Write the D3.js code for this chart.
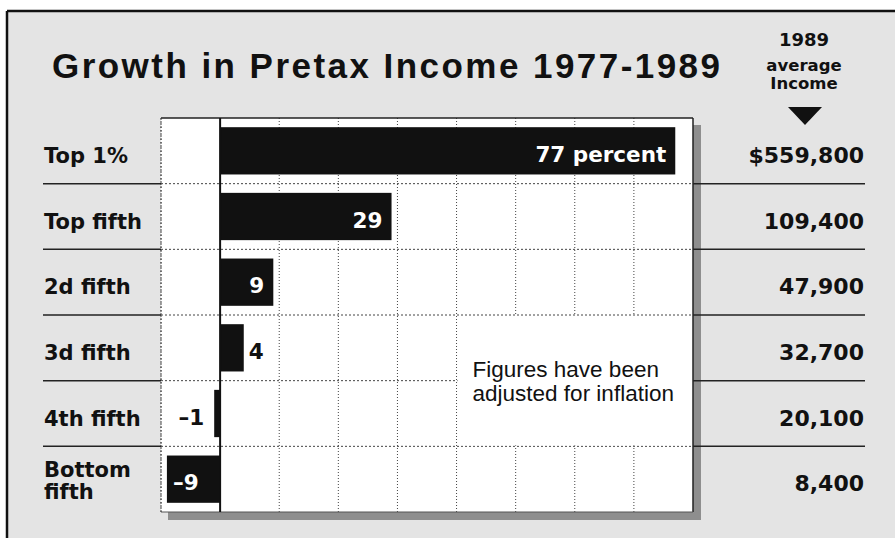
<!DOCTYPE html>
<html><head><meta charset="utf-8">
<script src="https://cdn.jsdelivr.net/npm/d3@7"></script>
<style>body{margin:0;background:#fff}svg{display:block}</style>
</head><body>
<svg id="chart" width="895" height="538"></svg>
<script>
// ---- data ----
const categories = ["Top 1%", "Top fifth", "2d fifth", "3d fifth", "4th fifth", "Bottom fifth"];
const growth = [77, 29, 9, 4, -1, -9];
const income1989 = [559800, 109400, 47900, 32700, 20100, 8400];
const gridTicks = [-10, 0, 10, 20, 30, 40, 50, 60, 70, 80];
const titleText = "Growth in Pretax Income 1977-1989";
const headerLines = ["1989", "average", "Income"];
const noteLines = ["Figures have been", "adjusted for inflation"];

// ---- layout ----
const svg = d3.select("#chart");
const W = 895, H = 538;
const panel = {left: 161, right: 693, top: 118, bottom: 512};
const boldFont = "'DejaVu Sans', sans-serif";
const x = d3.scaleLinear().domain([-10, 80]).range([panel.left, panel.right]);
const row = d3.scaleBand().domain(categories).range([panel.top, panel.bottom]).padding(0);
const barH = row.bandwidth() * 0.72;
const rows = categories.map((c, i) => ({cat: c, g: growth[i], inc: income1989[i], i}));
const cy = d => row(d.cat) + row.bandwidth() / 2;

// background & frame
svg.append("rect").attr("x", 7).attr("y", 11).attr("width", W - 7).attr("height", H - 11).attr("fill", "#e4e4e4");
svg.append("line").attr("x1", 7).attr("x2", W).attr("y1", 11).attr("y2", 11).attr("stroke", "#111").attr("stroke-width", 2.5);
svg.append("line").attr("x1", 7).attr("x2", 7).attr("y1", 11).attr("y2", H).attr("stroke", "#111").attr("stroke-width", 2.5);

// title
svg.append("text").attr("x", 52).attr("y", 78)
  .attr("font-family", "'Liberation Sans', Arial, sans-serif").attr("font-weight", "bold")
  .attr("font-size", 35).attr("fill", "#111")
  .attr("textLength", 668).attr("lengthAdjust", "spacing")
  .text(titleText);

// header on right
const headerY = [46, 71, 89];
svg.append("g").selectAll("text").data(headerLines).join("text")
  .attr("x", 804).attr("y", (d, i) => headerY[i]).attr("text-anchor", "middle")
  .attr("font-family", boldFont).attr("font-weight", "bold")
  .attr("font-size", (d, i) => i === 0 ? 18 : 16.5).attr("fill", "#111")
  .text(d => d);
svg.append("path").attr("d", "M788,107 L822,107 L805,125 Z").attr("fill", "#111");

// shadow + panel
svg.append("rect").attr("x", panel.left + 7).attr("y", panel.top + 7)
  .attr("width", panel.right - panel.left + 1).attr("height", panel.bottom - panel.top + 1).attr("fill", "#8e8e8e");
svg.append("rect").attr("x", panel.left).attr("y", panel.top)
  .attr("width", panel.right - panel.left).attr("height", panel.bottom - panel.top).attr("fill", "#fff");

// vertical grid
svg.append("g").selectAll("line").data(gridTicks.filter(t => t !== 0 && t !== 80)).join("line")
  .attr("x1", d => x(d)).attr("x2", d => x(d)).attr("y1", panel.top).attr("y2", panel.bottom)
  .attr("stroke", "#444").attr("stroke-width", 1).attr("stroke-dasharray", "1,2");
// horizontal separators in panel
const bounds = categories.slice(1).map(c => row(c));
svg.append("g").selectAll("line").data(bounds).join("line")
  .attr("x1", panel.left).attr("x2", panel.right).attr("y1", d => d).attr("y2", d => d)
  .attr("stroke", "#444").attr("stroke-width", 1).attr("stroke-dasharray", "2,2");

// note box (covers grid)
const noteTop = row("3d fifth"), noteBottom = row("4th fifth") + row.bandwidth();
svg.append("rect").attr("x", x(40) + 1).attr("y", noteTop + 1)
  .attr("width", x(80) - x(40) - 1).attr("height", noteBottom - noteTop - 2).attr("fill", "#fff");
svg.append("g").selectAll("text").data(noteLines).join("text")
  .attr("x", x(40) + 16).attr("y", (d, i) => 377 + i * 24)
  .attr("font-family", "'Liberation Sans', Arial, sans-serif").attr("font-size", 22.5).attr("fill", "#111")
  .text(d => d);

// panel edges
svg.append("line").attr("x1", panel.left).attr("x2", panel.right).attr("y1", panel.top).attr("y2", panel.top).attr("stroke", "#222").attr("stroke-width", 1.5);
svg.append("line").attr("x1", panel.right).attr("x2", panel.right).attr("y1", panel.top).attr("y2", panel.bottom).attr("stroke", "#222").attr("stroke-width", 1.5);
svg.append("line").attr("x1", panel.left).attr("x2", panel.right).attr("y1", panel.bottom).attr("y2", panel.bottom).attr("stroke", "#555").attr("stroke-width", 1);
svg.append("line").attr("x1", panel.left).attr("x2", panel.left).attr("y1", panel.top).attr("y2", panel.bottom).attr("stroke", "#444").attr("stroke-width", 1).attr("stroke-dasharray", "2,2");

// bars
svg.append("g").selectAll("rect").data(rows).join("rect")
  .attr("x", d => x(Math.min(0, d.g))).attr("width", d => Math.abs(x(d.g) - x(0)))
  .attr("y", d => cy(d) - barH / 2).attr("height", barH).attr("fill", "#111");

// zero line
svg.append("line").attr("x1", x(0)).attr("x2", x(0)).attr("y1", panel.top).attr("y2", panel.bottom).attr("stroke", "#111").attr("stroke-width", 2);

// bar labels
const fmtVal = (d) => {
  const s = (d.g < 0 ? "\u2013" : "") + Math.abs(d.g);
  return d.i === 0 ? s + " percent" : s;
};
svg.append("g").selectAll("text").data(rows).join("text")
  .attr("font-family", boldFont).attr("font-weight", "bold").attr("font-size", 21.5)
  .attr("y", d => cy(d) + 11)
  .each(function(d) {
    const w = Math.abs(x(d.g) - x(0));
    const inside = w > 30;
    const t = d3.select(this).text(fmtVal(d)).attr("fill", inside ? "#fff" : "#111");
    if (d.g >= 0) {
      if (inside) t.attr("x", x(d.g) - 9).attr("text-anchor", "end");
      else t.attr("x", x(d.g) + 5).attr("text-anchor", "start");
    } else {
      if (inside) t.attr("x", x(d.g) + 6).attr("text-anchor", "start");
      else t.attr("x", x(d.g) - 10).attr("text-anchor", "end");
    }
  });

// left & right separators
svg.append("g").selectAll("line").data(bounds).join("line")
  .attr("x1", 43).attr("x2", panel.left).attr("y1", d => d).attr("y2", d => d)
  .attr("stroke", "#222").attr("stroke-width", 1.5);
svg.append("g").selectAll("line").data(bounds).join("line")
  .attr("x1", panel.right).attr("x2", 865).attr("y1", d => d).attr("y2", d => d)
  .attr("stroke", "#222").attr("stroke-width", 1.5);

// row labels
const lab = svg.append("g").selectAll("text").data(rows).join("text")
  .attr("x", 44).attr("font-family", boldFont).attr("font-weight", "bold").attr("font-size", 21).attr("fill", "#111");
lab.each(function(d) {
  const words = d.cat === "Bottom fifth" ? ["Bottom", "fifth"] : [d.cat];
  const t = d3.select(this);
  if (words.length === 1) { t.attr("y", cy(d) + 12).text(words[0]); }
  else {
    words.forEach((w, k) => t.append("tspan").attr("x", 44).attr("y", cy(d) - 2 + k * 22).text(w));
  }
});

// income values
const fmtInc = (d) => (d.i === 0 ? d3.format("$,")(d.inc) : d3.format(",")(d.inc));
svg.append("g").selectAll("text").data(rows).join("text")
  .attr("x", 864).attr("y", d => cy(d) + 12).attr("text-anchor", "end")
  .attr("font-family", boldFont).attr("font-weight", "bold").attr("font-size", 22).attr("fill", "#111")
  .text(fmtInc);
</script>
</body></html>
